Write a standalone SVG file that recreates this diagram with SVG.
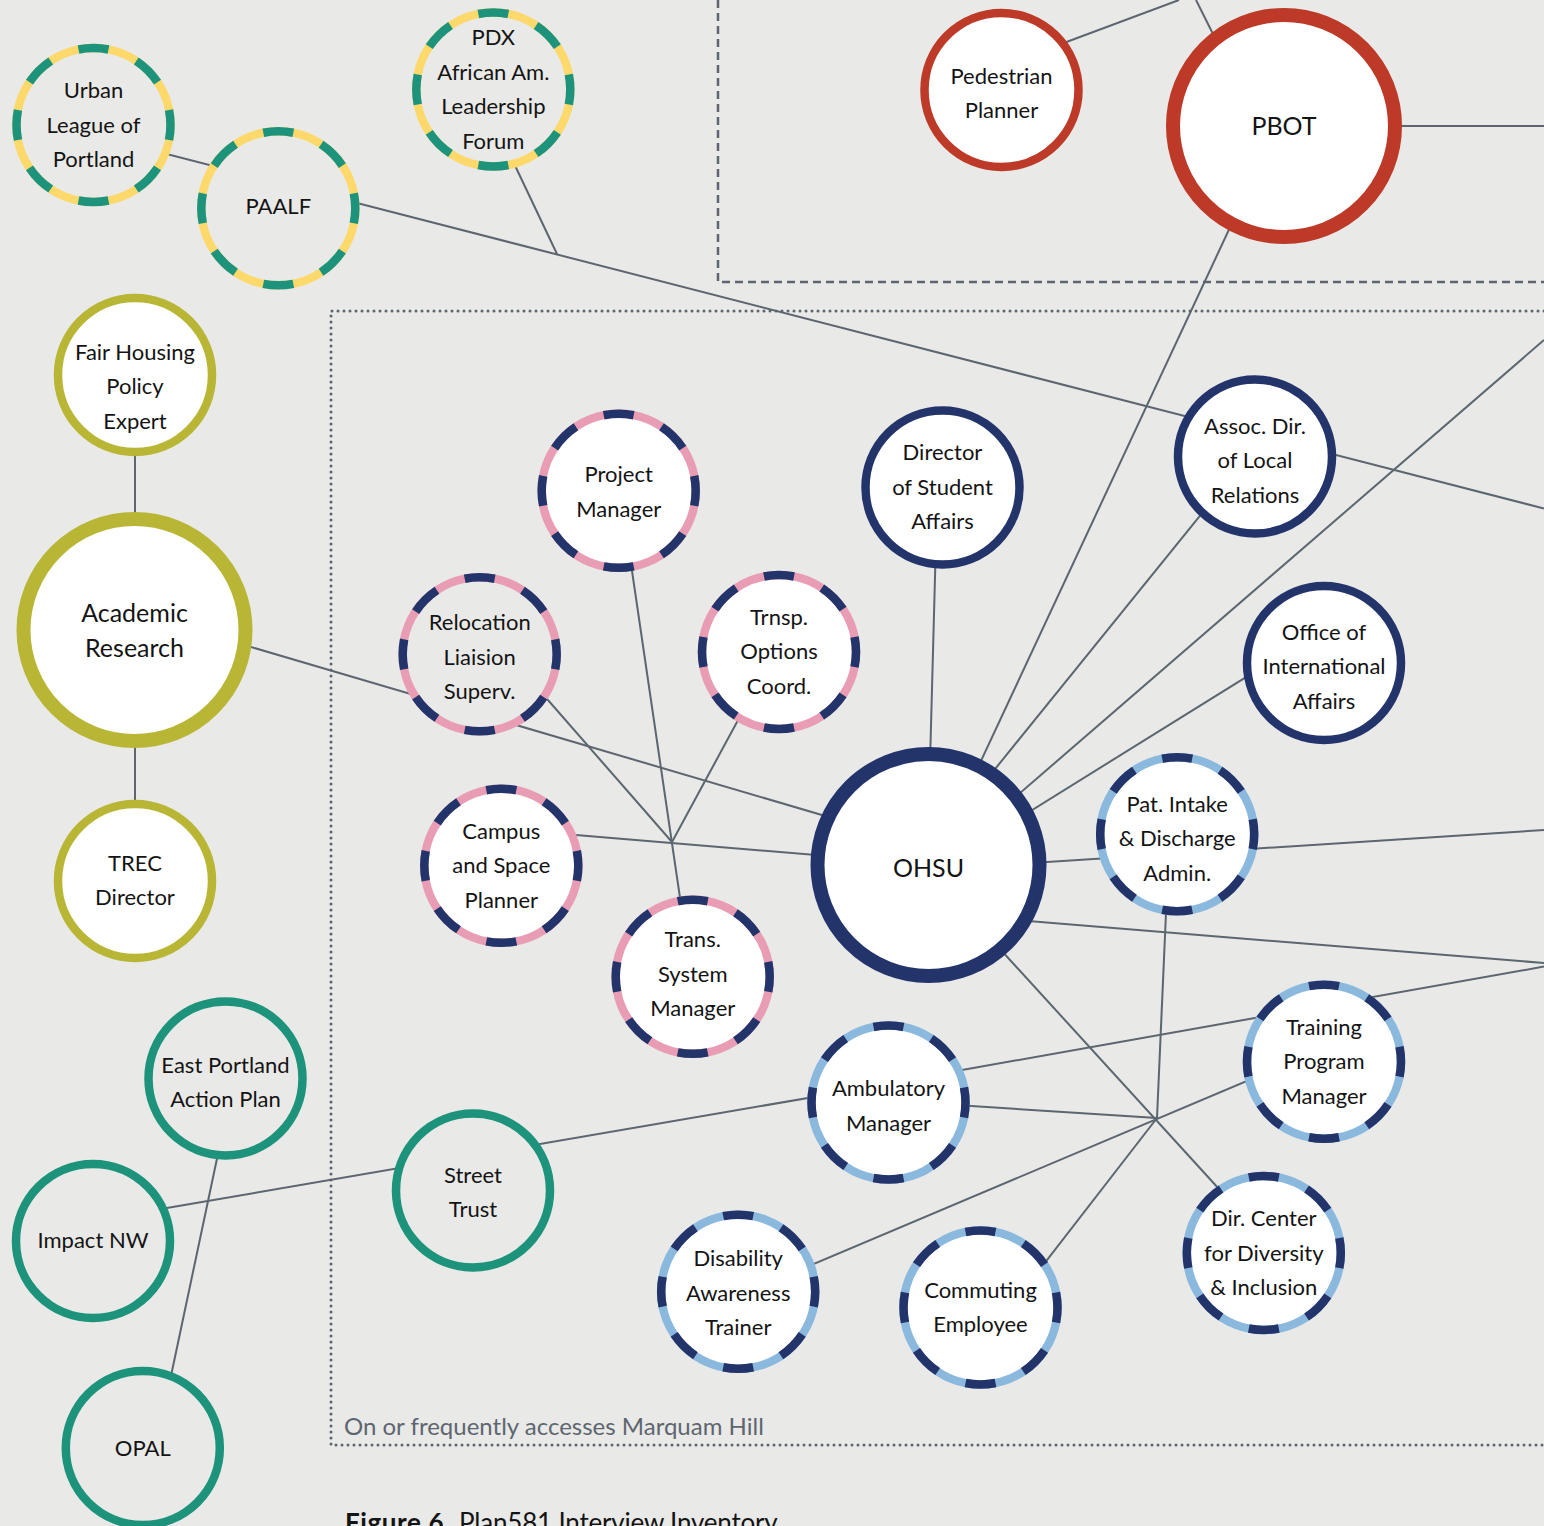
<svg xmlns="http://www.w3.org/2000/svg" width="1544" height="1526" viewBox="0 0 1544 1526">
<style>
.ln{stroke:#5b6670;stroke-width:2;fill:none}
.c{stroke-width:8.5}
.cb{stroke-width:14}
.w{fill:#fff}
.g{fill:#e9e9e7}
.d{fill:none;stroke-width:8.5;stroke-dasharray:1 1;stroke-dashoffset:0.5}
.teal{stroke:#1d937b}.yel{stroke:#fdd86b}.red{stroke:#bc3a27}.olv{stroke:#b9b635}
.nav{stroke:#23346b}.pnk{stroke:#e99db4}.lb{stroke:#8bb9de}
text{font-family:Lato,"Liberation Sans",sans-serif;fill:#141414;text-anchor:middle;font-size:22px}
text.b{font-size:25px}
.zone{fill:none;stroke:#5d6670;stroke-width:2.5}
.dot{stroke-width:3;stroke-dasharray:0 6;stroke-linecap:round}
.dsh{stroke-dasharray:8 5}
</style>
<rect width="1544" height="1526" fill="#e9e9e7"/>
<g id="zones">
<path class="zone dsh" d="M718,0 V282 H1544"/>
<path class="zone dot" d="M1544,311 H331 V1445 H1544"/>
<text x="344" y="1435" style="text-anchor:start;fill:#5d6670;font-size:24px">On or frequently accesses Marquam Hill</text>
</g>
<g id="connectors">
<line class="ln" x1="120" y1="142" x2="1544" y2="508.5"/>
<line class="ln" x1="510" y1="155" x2="557" y2="254"/>
<line class="ln" x1="135" y1="375" x2="135" y2="881"/>
<line class="ln" x1="200" y1="632" x2="900" y2="838"/>
<line class="ln" x1="1045" y1="50" x2="1179" y2="0"/>
<line class="ln" x1="1220" y1="48" x2="1196" y2="0"/>
<line class="ln" x1="1390" y1="126" x2="1544" y2="126"/>
<line class="ln" x1="1240" y1="206" x2="959" y2="808"/>
<line class="ln" x1="626" y1="530" x2="684" y2="925"/>
<line class="ln" x1="520" y1="668" x2="672" y2="842"/>
<line class="ln" x1="750" y1="698" x2="672" y2="842"/>
<line class="ln" x1="540" y1="832" x2="900" y2="862"/>
<line class="ln" x1="936" y1="540" x2="929" y2="800"/>
<line class="ln" x1="1220" y1="491" x2="970" y2="800"/>
<line class="ln" x1="1544" y1="340" x2="990" y2="819"/>
<line class="ln" x1="1280" y1="656" x2="1000" y2="830"/>
<line class="ln" x1="1000" y1="865" x2="1544" y2="830"/>
<line class="ln" x1="990" y1="918" x2="1544" y2="963"/>
<line class="ln" x1="980" y1="927" x2="1240" y2="1212"/>
<line class="ln" x1="1167" y1="890" x2="1157" y2="1118"/>
<line class="ln" x1="1157" y1="1118" x2="1030" y2="1282"/>
<line class="ln" x1="940" y1="1104" x2="1157" y2="1118"/>
<line class="ln" x1="1280" y1="1067" x2="790" y2="1274"/>
<line class="ln" x1="920" y1="1077.5" x2="1544" y2="966.6"/>
<line class="ln" x1="120" y1="1216" x2="840" y2="1092.5"/>
<line class="ln" x1="222" y1="1135" x2="168" y2="1390"/>
</g>
<g id="n-urban"><circle cx="93.5" cy="125" r="77" class="g c yel"/><circle cx="93.5" cy="125" r="77" pathLength="16" class="d teal"/><text x="93.5" y="98">Urban</text><text x="93.5" y="132.5">League of</text><text x="93.5" y="167">Portland</text></g>
<g id="n-paalf"><circle cx="278.3" cy="208.3" r="77" class="g c yel"/><circle cx="278.3" cy="208.3" r="77" pathLength="16" class="d teal"/><text x="278.3" y="214">PAALF</text></g>
<g id="n-pdx"><circle cx="493.3" cy="89.5" r="77" class="g c yel"/><circle cx="493.3" cy="89.5" r="77" pathLength="16" class="d teal"/><text x="493.3" y="45">PDX</text><text x="493.3" y="79.5">African Am.</text><text x="493.3" y="114">Leadership</text><text x="493.3" y="148.5">Forum</text></g>
<g id="n-ped"><circle cx="1001.5" cy="90" r="77" class="w c red"/><text x="1001.5" y="83.5">Pedestrian</text><text x="1001.5" y="118">Planner</text></g>
<g id="n-pbot"><circle cx="1284" cy="126" r="111" class="w cb red"/><text class="b" x="1284" y="135">PBOT</text></g>
<g id="n-fair"><circle cx="135" cy="375" r="77" class="w c olv"/><text x="135" y="359.5">Fair Housing</text><text x="135" y="394">Policy</text><text x="135" y="428.5">Expert</text></g>
<g id="n-acad"><circle cx="134.5" cy="630" r="111" class="w cb olv"/><text class="b" x="134.5" y="621.5">Academic</text><text class="b" x="134.5" y="656.5">Research</text></g>
<g id="n-trec"><circle cx="135" cy="881" r="77" class="w c olv"/><text x="135" y="870.5">TREC</text><text x="135" y="905">Director</text></g>
<g id="n-pm"><circle cx="618.7" cy="490.8" r="77" class="w c pnk"/><circle cx="618.7" cy="490.8" r="77" pathLength="16" class="d nav"/><text x="618.7" y="482">Project</text><text x="618.7" y="516.5">Manager</text></g>
<g id="n-dsa"><circle cx="942.5" cy="487.5" r="77" class="w c nav"/><text x="942.5" y="460">Director</text><text x="942.5" y="494.5">of Student</text><text x="942.5" y="529">Affairs</text></g>
<g id="n-assoc"><circle cx="1255" cy="456.5" r="77" class="w c nav"/><text x="1255" y="433.5">Assoc. Dir.</text><text x="1255" y="468">of Local</text><text x="1255" y="502.5">Relations</text></g>
<g id="n-reloc"><circle cx="479.7" cy="654.3" r="77" class="g c pnk"/><circle cx="479.7" cy="654.3" r="77" pathLength="16" class="d nav"/><text x="479.7" y="630">Relocation</text><text x="479.7" y="664.5">Liaision</text><text x="479.7" y="699">Superv.</text></g>
<g id="n-trnsp"><circle cx="779" cy="652" r="77" class="w c pnk"/><circle cx="779" cy="652" r="77" pathLength="16" class="d nav"/><text x="779" y="624.5">Trnsp.</text><text x="779" y="659">Options</text><text x="779" y="693.5">Coord.</text></g>
<g id="n-oia"><circle cx="1324" cy="663" r="77" class="w c nav"/><text x="1324" y="639.5">Office of</text><text x="1324" y="674">International</text><text x="1324" y="708.5">Affairs</text></g>
<g id="n-ohsu"><circle cx="928.5" cy="865" r="111" class="w cb nav"/><text class="b" x="928.5" y="877">OHSU</text></g>
<g id="n-pat"><circle cx="1177.2" cy="834.2" r="77" class="w c lb"/><circle cx="1177.2" cy="834.2" r="77" pathLength="16" class="d nav"/><text x="1177.2" y="811.7">Pat. Intake</text><text x="1177.2" y="846.2">&amp; Discharge</text><text x="1177.2" y="880.7">Admin.</text></g>
<g id="n-campus"><circle cx="501.3" cy="865.8" r="77" class="w c pnk"/><circle cx="501.3" cy="865.8" r="77" pathLength="16" class="d nav"/><text x="501.3" y="838.8">Campus</text><text x="501.3" y="873.3">and Space</text><text x="501.3" y="907.8">Planner</text></g>
<g id="n-tsm"><circle cx="692.7" cy="976.8" r="77" class="w c pnk"/><circle cx="692.7" cy="976.8" r="77" pathLength="16" class="d nav"/><text x="692.7" y="947">Trans.</text><text x="692.7" y="981.5">System</text><text x="692.7" y="1016">Manager</text></g>
<g id="n-train"><circle cx="1324" cy="1061.7" r="77" class="w c lb"/><circle cx="1324" cy="1061.7" r="77" pathLength="16" class="d nav"/><text x="1324" y="1034.5">Training</text><text x="1324" y="1069">Program</text><text x="1324" y="1103.5">Manager</text></g>
<g id="n-amb"><circle cx="888.5" cy="1102.5" r="77" class="w c lb"/><circle cx="888.5" cy="1102.5" r="77" pathLength="16" class="d nav"/><text x="888.5" y="1096">Ambulatory</text><text x="888.5" y="1130.5">Manager</text></g>
<g id="n-street"><circle cx="473" cy="1190.5" r="77" class="g c teal"/><text x="473" y="1182.5">Street</text><text x="473" y="1217">Trust</text></g>
<g id="n-east"><circle cx="225.5" cy="1078.4" r="77" class="g c teal"/><text x="225.5" y="1072.5">East Portland</text><text x="225.5" y="1107">Action Plan</text></g>
<g id="n-impact"><circle cx="93" cy="1241" r="77" class="g c teal"/><text x="93" y="1248">Impact NW</text></g>
<g id="n-opal"><circle cx="142.8" cy="1448" r="77" class="g c teal"/><text x="142.8" y="1456">OPAL</text></g>
<g id="n-dis"><circle cx="738.2" cy="1291.7" r="77" class="w c lb"/><circle cx="738.2" cy="1291.7" r="77" pathLength="16" class="d nav"/><text x="738.2" y="1266">Disability</text><text x="738.2" y="1300.5">Awareness</text><text x="738.2" y="1335">Trainer</text></g>
<g id="n-comm"><circle cx="980.5" cy="1307.5" r="77" class="w c lb"/><circle cx="980.5" cy="1307.5" r="77" pathLength="16" class="d nav"/><text x="980.5" y="1297.5">Commuting</text><text x="980.5" y="1332">Employee</text></g>
<g id="n-dci"><circle cx="1263.8" cy="1253" r="77" class="w c lb"/><circle cx="1263.8" cy="1253" r="77" pathLength="16" class="d nav"/><text x="1263.8" y="1226">Dir. Center</text><text x="1263.8" y="1260.5">for Diversity</text><text x="1263.8" y="1295">&amp; Inclusion</text></g>
<text x="345" y="1532" style="text-anchor:start;font-size:26px"><tspan font-weight="bold" style="letter-spacing:0.6px">Figure 6</tspan><tspan x="459" style="letter-spacing:-0.2px">Plan581 Interview Inventory</tspan></text>
</svg>
